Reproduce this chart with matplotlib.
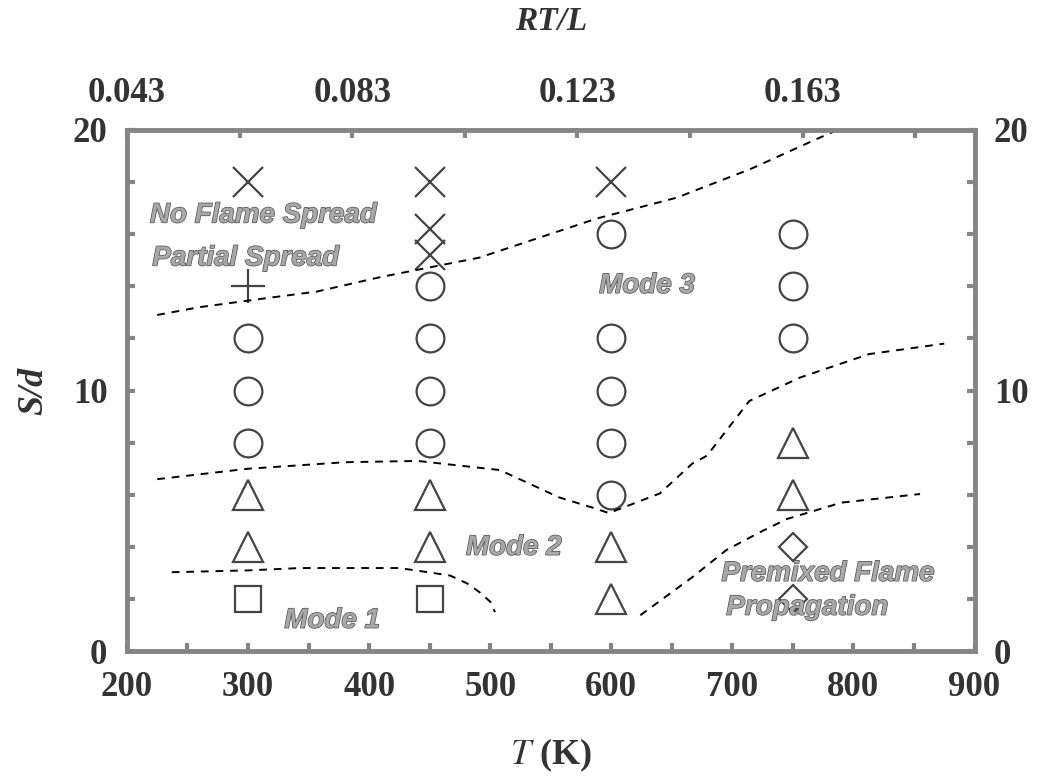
import matplotlib
matplotlib.use("Agg")
from matplotlib import pyplot as plt
from matplotlib.ticker import MultipleLocator
from matplotlib.font_manager import FontProperties
import matplotlib.patheffects as pe

plt.rcParams["mathtext.fontset"] = "stix"

# Data points: temperature T (K) and spacing S/d for each regime marker.
sq_T, sq_S = [300, 450], [2, 2]
tri_T = [300, 300, 450, 450, 600, 600, 750, 750]
tri_S = [4, 6, 4, 6, 2, 4, 6, 8]
dia_T, dia_S = [750, 750], [2, 4]
circ_T = [300, 300, 300, 450, 450, 450, 450, 600, 600, 600, 600, 600, 750, 750, 750]
circ_S = [8, 10, 12, 8, 10, 12, 14, 6, 8, 10, 12, 16, 12, 14, 16]
plus_T, plus_S = [300], [14]
x_T = [300, 450, 450, 450, 600]
x_S = [18, 15.2, 16.2, 18, 18]

# Regime boundaries (dashed lines).
noflame_T = [225, 260, 316, 357, 409, 491, 588, 654, 715, 772, 787]
noflame_S = [12.9, 13.2, 13.55, 13.8, 14.35, 15.1, 16.6, 17.4, 18.5, 19.7, 20.0]
mode23_T = [225, 300, 380, 440, 508, 557, 585, 598, 640, 667, 679, 714, 756, 813, 875]
mode23_S = [6.6, 7.0, 7.25, 7.3, 6.95, 5.9, 5.5, 5.3, 6.05, 7.2, 7.5, 9.6, 10.5, 11.4, 11.8]
mode12_T = [237, 300, 343, 425, 453, 467, 481, 491, 500, 504]
mode12_S = [3.03, 3.1, 3.19, 3.19, 3.0, 2.9, 2.6, 2.27, 1.9, 1.5]
premix_T = [624, 667, 695, 723, 745, 790, 855]
premix_S = [1.38, 2.84, 3.88, 4.57, 5.07, 5.7, 6.03]

# Top axis: RT/L tick labels
rtl_ticks = [0.043, 0.083, 0.123, 0.163]
rtl_per_T = 0.043 / 200.0

fig = plt.figure(figsize=(10.49, 7.78), dpi=100)
ax = fig.add_axes([0.121, 0.163, 0.808, 0.670])

mk = dict(linestyle="none", markerfacecolor="none", markeredgecolor="#444444",
          markeredgewidth=1.6)
ax.plot(sq_T, sq_S, marker="s", markersize=19, **mk)
ax.plot(tri_T, tri_S, marker="^", markersize=22, **mk)
ax.plot(dia_T, dia_S, marker="D", markersize=14, **mk)
ax.plot(circ_T, circ_S, marker="o", markersize=20, **mk)
ax.plot(plus_T, plus_S, marker="+", markersize=24, **mk)
ax.plot(x_T, x_S, marker="x", markersize=22, **mk)

for T, S in [(noflame_T, noflame_S), (mode23_T, mode23_S),
             (mode12_T, mode12_S), (premix_T, premix_S)]:
    ax.plot(T, S, color="black", linestyle=(0, (4, 3.5)), linewidth=1.4)

# Region labels
lab = dict(fontsize=20, fontweight="bold", fontstyle="italic",
           family="Liberation Sans", color="#a8a8a8",
           path_effects=[pe.withStroke(linewidth=1.0, foreground="#505050")])
ax.text(219, 16.45, "No Flame Spread", **lab)
ax.text(221, 14.8, "Partial Spread", **lab)
ax.text(590, 13.75, "Mode 3", **lab)
ax.text(480, 3.7, "Mode 2", **lab)
ax.text(330, 0.9, "Mode 1", **lab)
ax.text(691, 2.7, "Premixed Flame", **lab)
ax.text(695, 1.4, "Propagation", **lab)

ax.set_xlim(200, 900)
ax.set_ylim(0, 20)
ax.xaxis.set_major_locator(MultipleLocator(100))
ax.xaxis.set_minor_locator(MultipleLocator(50))
ax.yaxis.set_major_locator(MultipleLocator(10))
ax.yaxis.set_minor_locator(MultipleLocator(2))

for s in ax.spines.values():
    s.set_linewidth(3.5)
    s.set_color("#858585")

tick_font = FontProperties(family="Liberation Serif", weight="bold", size=25)
ax.tick_params(which="both", direction="in", color="#858585", width=3,
               length=6, right=True, labelright=True, top=False,
               labelcolor="#333333", pad=14)
for lbl in ax.get_xticklabels() + ax.get_yticklabels():
    lbl.set_fontproperties(tick_font)
for t in ax.yaxis.get_major_ticks():
    t.label2.set_fontproperties(tick_font)

# Secondary top axis in RT/L
top = ax.secondary_xaxis("top", functions=(lambda t: t * rtl_per_T,
                                           lambda r: r / rtl_per_T))
top.set_xticks(rtl_ticks)
top.set_xticklabels([f"{v:.3f}" for v in rtl_ticks])
top.xaxis.set_minor_locator(MultipleLocator(0.02, offset=0.003))
top.spines["top"].set_visible(False)
top.tick_params(which="both", direction="in", color="#858585", width=3,
                length=6, pad=14, labelcolor="#333333")
for lbl in top.get_xticklabels():
    lbl.set_fontproperties(tick_font)
top.set_xlabel("RT/L", family="Liberation Serif", fontstyle="italic",
               fontweight="bold", fontsize=24, labelpad=34, color="#333333")

ax.set_xlabel("$\\mathit{T}$ (K)", family="Liberation Serif", fontweight="bold",
              fontsize=26, labelpad=24, color="#333333")
ax.set_ylabel("S/d", family="Liberation Serif", fontstyle="italic",
              fontweight="bold", fontsize=26, labelpad=16, color="#333333")

fig.savefig("out.png", dpi=100)
